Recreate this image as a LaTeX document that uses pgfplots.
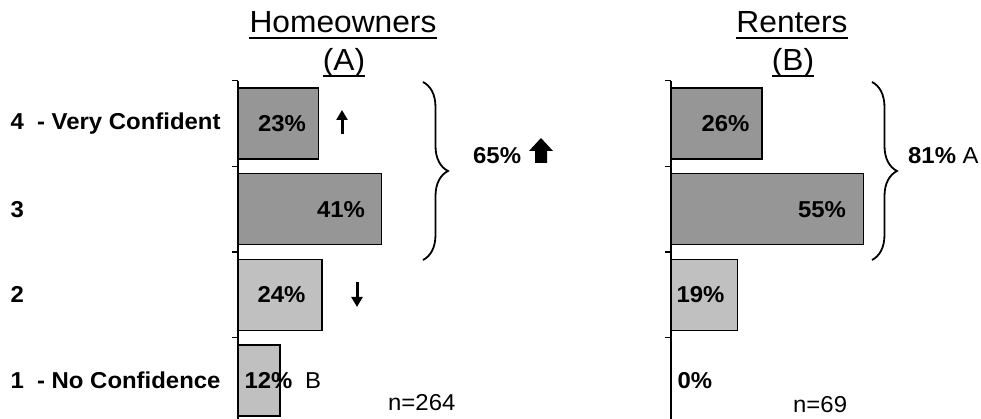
\documentclass[border=0pt]{standalone}
\usepackage{pgfplots}
\pgfplotsset{compat=1.18}
\usepackage{fontspec}
\setmainfont{Liberation Sans}[FakeStretch=1.04]
\usetikzlibrary{decorations.pathreplacing,arrows.meta}
\definecolor{darkbar}{RGB}{150,150,150}
\definecolor{lightbar}{RGB}{192,192,192}
\newcommand{\lab}{\fontsize{23bp}{26bp}\selectfont\bfseries}
\newcommand{\reg}{\fontsize{23bp}{26bp}\selectfont\mdseries}
\newcommand{\ttl}{\fontsize{30.5bp}{34bp}\selectfont}
\pgfplotsset{panel/.style={
  scale only axis, width=350bp, height=342.7bp,
  xmin=0, xmax=100, ymin=0.5, ymax=4.5,
  axis x line=none, axis y line*=left,
  ytick={0.5,1.5,2.5,3.5,4.5}, yticklabels={},
  tick align=outside, major tick length=6bp,
  every tick/.style={black, line width=1.5bp},
  axis line style={black, line width=1.5bp, -},
  clip=false, xbar, bar width=71bp,
  anchor=south west,
}}
\begin{document}
\begin{tikzpicture}
\useasboundingbox (0,0) rectangle (981bp,419bp);
% Homeowners (A)
\begin{axis}[panel, at={(238bp,-4.3bp)}]
\addplot[fill=darkbar, draw=black, line width=1.5bp, bar shift=0pt] coordinates {(41,3) (23,4)};
\addplot[fill=lightbar, draw=black, line width=1.5bp, bar shift=0pt] coordinates {(12,1) (24,2)};
\node[anchor=east, font=\lab, xshift=-9bp] at (axis cs:23,4) {23\%};
\node[anchor=east, font=\lab, xshift=-13bp] at (axis cs:41,3) {41\%};
\node[anchor=east, font=\lab, xshift=-13bp] at (axis cs:24,2) {24\%};
\node[anchor=west, font=\lab, xshift=3bp] at (axis cs:0,1) {12\%};
\node[anchor=west, font=\lab] at (axis cs:-66,4) {4~~- Very Confident};
\node[anchor=west, font=\lab] at (axis cs:-66,3) {3};
\node[anchor=west, font=\lab] at (axis cs:-66,2) {2};
\node[anchor=west, font=\lab] at (axis cs:-66,1) {1~~- No Confidence};
\end{axis}
% Renters (B)
\begin{axis}[panel, at={(671bp,-4.3bp)}]
\addplot[fill=darkbar, draw=black, line width=1.5bp, bar shift=0pt] coordinates {(55,3) (26,4)};
\addplot[fill=lightbar, draw=black, line width=1.5bp, bar shift=0pt] coordinates {(0,1) (19,2)};
\node[anchor=east, font=\lab, xshift=-9bp] at (axis cs:26,4) {26\%};
\node[anchor=east, font=\lab, xshift=-14bp] at (axis cs:55,3) {55\%};
\node[anchor=west, font=\lab, xshift=2bp] at (axis cs:0,2) {19\%};
\node[anchor=west, font=\lab, xshift=3bp] at (axis cs:0,1) {0\%};
\end{axis}
\begin{scope}[shift={(0,419bp)}, x=1bp, y=-1bp]
% titles
\node[anchor=base, inner sep=0, font=\ttl] (h1) at (343,33) {Homeowners};
\draw[line width=2bp] ([yshift=-5.5bp]h1.base west) -- ([yshift=-5.5bp]h1.base east);
\node[anchor=base, inner sep=0, font=\ttl] (h2) at (344,71) {(A)};
\draw[line width=2bp] ([yshift=-5.5bp]h2.base west) -- ([yshift=-5.5bp]h2.base east);
\node[anchor=base, inner sep=0, font=\ttl] (r1) at (792,33) {Renters};
\draw[line width=2bp] ([yshift=-5.5bp]r1.base west) -- ([yshift=-5.5bp]r1.base east);
\node[anchor=base, inner sep=0, font=\ttl] (r2) at (793,71) {(B)};
\draw[line width=2bp] ([yshift=-5.5bp]r2.base west) -- ([yshift=-5.5bp]r2.base east);
% braces
\draw[line width=1.8bp, decorate, decoration={brace, amplitude=25bp}] (423,82) -- (423,260);
\draw[line width=1.8bp, decorate, decoration={brace, amplitude=25bp}] (872,82) -- (872,260);
% annotations
\node[anchor=west, inner sep=0, font=\lab] at (473,156) {65\%};
\fill (541,138) -- (553,151) -- (547,151) -- (547,163) -- (535,163) -- (535,151) -- (529,151) -- cycle;
\node[anchor=west, inner sep=0] at (908,156) {\lab 81\%\reg\ A};
\draw[line width=3bp, -{Triangle[width=11bp,length=10bp]}] (342,134) -- (342,110);
\draw[line width=3bp, -{Triangle[width=11bp,length=10bp]}] (357,282) -- (357,307);
\node[anchor=west, inner sep=0, font=\reg] at (305,381) {B};
\node[anchor=base west, inner sep=0, font=\reg] at (388,411) {n=264};
\node[anchor=base west, inner sep=0, font=\reg] at (793,413) {n=69};
\end{scope}
\end{tikzpicture}
\end{document}
